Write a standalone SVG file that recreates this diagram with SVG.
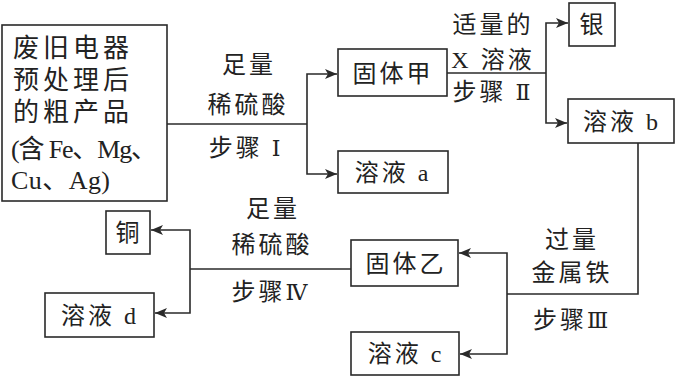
<svg xmlns="http://www.w3.org/2000/svg" width="676" height="378" viewBox="0 0 676 378">
<defs>
<style>
.box{fill:#fff;stroke:#2a2a2a;stroke-width:1.6}
.ln{fill:none;stroke:#2a2a2a;stroke-width:1.6}
text{font-family:"Liberation Serif","Noto Sans CJK SC",serif;fill:#222;font-size:24px}
.c{text-anchor:middle;letter-spacing:3px}
.m{font-size:26px}
.r{font-family:"DejaVu Serif","Liberation Serif","Noto Sans CJK SC",serif;font-size:22px}
</style>
<marker id="ah" viewBox="0 0 12 10" refX="12" refY="5" markerWidth="12" markerHeight="10" markerUnits="userSpaceOnUse" orient="auto">
<path d="M0,0 L12,5 L0,10 L3,5 Z" fill="#2a2a2a"/>
</marker>
</defs>
<rect width="676" height="378" fill="#fff"/>
<g id="raw">
<rect class="box" x="2" y="25" width="165" height="176"/>
<text class="m" x="13" y="57" textLength="116" lengthAdjust="spacing">废旧电器</text>
<text class="m" x="13" y="89" textLength="116" lengthAdjust="spacing">预处理后</text>
<text class="m" x="13" y="121" textLength="116" lengthAdjust="spacing">的粗产品</text>
<text class="m" x="11" y="158" textLength="146" lengthAdjust="spacing">(含 Fe、Mg、</text>
<text class="m" x="11" y="189" textLength="99" lengthAdjust="spacing">Cu、Ag)</text>
</g>
<g id="jia"><rect class="box" x="338" y="49" width="109" height="47"/><text class="c" x="393" y="82">固体甲</text></g>
<g id="sol-a"><rect class="box" x="338" y="151" width="110" height="42"/><text class="c" x="393" y="181">溶液 a</text></g>
<g id="silver"><rect class="box" x="569" y="3" width="46" height="43"/><text class="c" x="593" y="33">银</text></g>
<g id="sol-b"><rect class="box" x="568" y="99" width="106" height="44"/><text class="c" x="622" y="130">溶液 b</text></g>
<g id="yi"><rect class="box" x="351" y="240" width="107" height="46"/><text class="c" x="406" y="272">固体乙</text></g>
<g id="sol-c"><rect class="box" x="351" y="332" width="108" height="43"/><text class="c" x="406" y="362">溶液 c</text></g>
<g id="copper"><rect class="box" x="106" y="211" width="44" height="43"/><text class="c" x="129" y="241">铜</text></g>
<g id="sol-d"><rect class="box" x="45" y="293" width="109" height="44"/><text class="c" x="100" y="324">溶液 d</text></g>
<g id="connectors">
<path class="ln" d="M167,124 H307"/>
<path class="ln" d="M307,124 V74 H337" marker-end="url(#ah)"/>
<path class="ln" d="M307,124 V174 H337" marker-end="url(#ah)"/>
<path class="ln" d="M447,73 H546"/>
<path class="ln" d="M546,73 V23 H568" marker-end="url(#ah)"/>
<path class="ln" d="M546,73 V123 H567" marker-end="url(#ah)"/>
<path class="ln" d="M638,143 V294 H507"/>
<path class="ln" d="M507,294 V253 H459" marker-end="url(#ah)"/>
<path class="ln" d="M507,294 V354 H460" marker-end="url(#ah)"/>
<path class="ln" d="M351,269 H190"/>
<path class="ln" d="M190,269 V230 H151" marker-end="url(#ah)"/>
<path class="ln" d="M190,269 V313 H155" marker-end="url(#ah)"/>
</g>
<g id="labels">
<text class="c" x="249" y="73">足量</text>
<text class="c" x="248" y="113">稀硫酸</text>
<text class="c" x="246" y="156">步骤 <tspan class="r">Ⅰ</tspan></text>
<text class="c" x="493" y="33">适量的</text>
<text class="c" x="493" y="68">X 溶液</text>
<text class="c" x="493" y="100">步骤 <tspan class="r">Ⅱ</tspan></text>
<text class="c" x="273" y="217">足量</text>
<text class="c" x="272" y="253">稀硫酸</text>
<text class="c" x="271" y="300">步骤<tspan class="r">Ⅳ</tspan></text>
<text class="c" x="572" y="248">过量</text>
<text class="c" x="572" y="281">金属铁</text>
<text class="c" x="572" y="328">步骤<tspan class="r">Ⅲ</tspan></text>
</g>
</svg>
